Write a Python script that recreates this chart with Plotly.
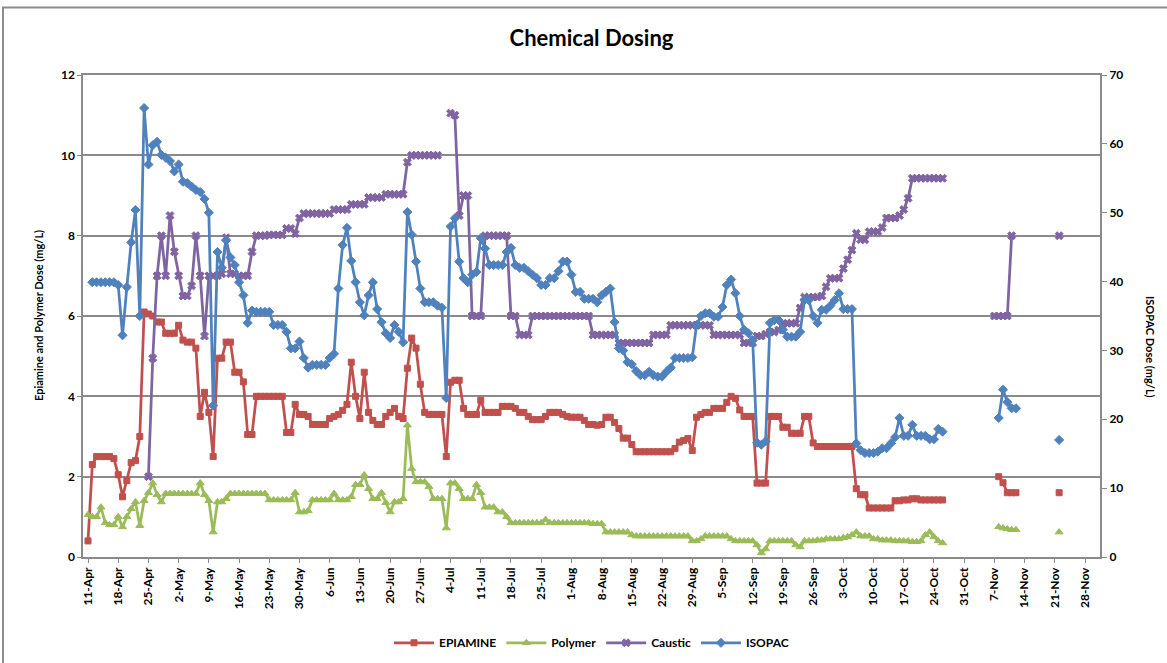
import datetime as dt
import plotly.graph_objects as go

# ---------------- data (daily, starting 11-Apr) ----------------
start = dt.date(2013, 4, 11)
N = None

# 11-Apr .. 27-Oct (199 days)
epiamine_main = [
    0.4, 2.3, 2.5, 2.5, 2.5, 2.5, 2.45,
    2.05, 1.5, 1.9, 2.35, 2.4, 3.0, 6.1,
    6.05, 6.0, 5.85, 5.85, 5.57, 5.57, 5.57,
    5.77, 5.4, 5.35, 5.35, 5.2, 3.5, 4.1,
    3.6, 2.5, 4.95, 4.95, 5.35, 5.35, 4.6,
    4.6, 4.36, 3.05, 3.05, 4.0, 4.0, 4.0,
    4.0, 4.0, 4.0, 4.0, 3.1, 3.1, 3.8,
    3.55, 3.55, 3.5, 3.3, 3.3, 3.3, 3.3,
    3.45, 3.5, 3.55, 3.65, 3.8, 4.85, 4.0,
    3.45, 4.6, 3.6, 3.4, 3.3, 3.3, 3.5,
    3.6, 3.7, 3.5, 3.45, 4.7, 5.45, 5.2,
    4.3, 3.6, 3.55, 3.55, 3.55, 3.55, 2.5,
    4.35, 4.4, 4.4, 3.7, 3.55, 3.55, 3.55,
    3.9, 3.6, 3.6, 3.6, 3.6, 3.75, 3.75,
    3.75, 3.7, 3.6, 3.6, 3.5, 3.42, 3.42,
    3.42, 3.5, 3.6, 3.6, 3.6, 3.55, 3.5,
    3.48, 3.48, 3.48, 3.4, 3.3, 3.3, 3.28,
    3.3, 3.48, 3.48, 3.35, 3.2, 2.96, 2.96,
    2.8, 2.62, 2.62, 2.62, 2.62, 2.62, 2.62,
    2.62, 2.62, 2.62, 2.7, 2.86, 2.9, 2.95,
    2.65, 3.48, 3.55, 3.6, 3.6, 3.7, 3.7,
    3.7, 3.85, 4.0, 3.95, 3.66, 3.5, 3.5,
    3.5, 1.84, 1.84, 1.84, 3.5, 3.5, 3.5,
    3.23, 3.23, 3.08, 3.08, 3.08, 3.5, 3.5,
    2.84, 2.75, 2.75, 2.75, 2.75, 2.75, 2.75,
    2.75, 2.75, 2.75, 1.7, 1.55, 1.55, 1.22,
    1.22, 1.22, 1.22, 1.22, 1.22, 1.4, 1.4,
    1.42, 1.42, 1.45, 1.45, 1.42, 1.42, 1.42,
    1.42, 1.42, 1.42,
]
polymer_main = [
    1.05, 1.0, 1.0, 1.24, 0.85, 0.8, 0.8,
    1.0, 0.75, 1.0, 1.2, 1.37, 0.78, 1.4,
    1.6, 1.84, 1.55, 1.37, 1.58, 1.58, 1.58,
    1.58, 1.58, 1.58, 1.58, 1.58, 1.84, 1.55,
    1.4, 0.62, 1.37, 1.37, 1.45, 1.58, 1.58,
    1.58, 1.58, 1.58, 1.58, 1.58, 1.58, 1.58,
    1.42, 1.42, 1.42, 1.42, 1.42, 1.42, 1.6,
    1.12, 1.12, 1.15, 1.42, 1.42, 1.42, 1.42,
    1.42, 1.58, 1.42, 1.42, 1.42, 1.5, 1.8,
    1.8, 2.04, 1.7, 1.45, 1.45, 1.6, 1.35,
    1.12, 1.37, 1.37, 1.45, 3.28, 2.2, 1.87,
    1.87, 1.87, 1.75, 1.45, 1.45, 1.45, 0.72,
    1.84, 1.84, 1.7, 1.45, 1.45, 1.45, 1.8,
    1.6, 1.24, 1.24, 1.24, 1.12, 1.12, 1.0,
    0.85, 0.85, 0.85, 0.85, 0.85, 0.85, 0.85,
    0.85, 0.93, 0.85, 0.85, 0.85, 0.85, 0.85,
    0.85, 0.85, 0.85, 0.85, 0.85, 0.83, 0.83,
    0.83, 0.62, 0.62, 0.62, 0.62, 0.62, 0.62,
    0.55, 0.52, 0.52, 0.52, 0.52, 0.52, 0.52,
    0.52, 0.52, 0.52, 0.52, 0.52, 0.52, 0.52,
    0.4, 0.4, 0.45, 0.52, 0.52, 0.52, 0.52,
    0.52, 0.52, 0.45, 0.4, 0.4, 0.4, 0.4,
    0.4, 0.3, 0.1, 0.2, 0.4, 0.4, 0.4,
    0.4, 0.4, 0.4, 0.3, 0.25, 0.4, 0.4,
    0.4, 0.42, 0.42, 0.45, 0.45, 0.45, 0.45,
    0.48, 0.5, 0.55, 0.62, 0.52, 0.52, 0.52,
    0.45, 0.45, 0.42, 0.42, 0.42, 0.4, 0.4,
    0.4, 0.4, 0.38, 0.38, 0.4, 0.55, 0.62,
    0.5, 0.4, 0.35,
]
caustic_main = [
    N, N, N, N, N, N, N,
    N, N, N, N, N, N, N,
    2.0, 4.95, 7.0, 8.0, 7.0, 8.5, 7.6,
    7.0, 6.5, 6.5, 6.75, 8.0, 7.0, 5.5,
    7.0, 7.0, 7.0, 7.05, 7.95, 7.05, 7.05,
    7.0, 7.0, 7.0, 7.6, 8.0, 8.0, 8.0,
    8.02, 8.02, 8.02, 8.02, 8.18, 8.18, 8.05,
    8.44, 8.55, 8.55, 8.55, 8.55, 8.55, 8.55,
    8.55, 8.65, 8.65, 8.65, 8.65, 8.78, 8.78,
    8.78, 8.78, 8.95, 8.95, 8.95, 8.95, 9.03,
    9.03, 9.03, 9.03, 9.03, 9.83, 10.0, 10.0,
    10.0, 10.0, 10.0, 10.0, 10.0, N, N,
    11.05, 11.0, 8.5, 9.0, 9.0, 6.0, 6.0,
    6.0, 8.0, 8.0, 8.0, 8.0, 8.0, 8.0,
    6.0, 6.0, 5.53, 5.53, 5.53, 6.0, 6.0,
    6.0, 6.0, 6.0, 6.0, 6.0, 6.0, 6.0,
    6.0, 6.0, 6.0, 6.0, 6.0, 5.53, 5.53,
    5.53, 5.53, 5.53, 5.53, 5.33, 5.33, 5.33,
    5.33, 5.33, 5.33, 5.33, 5.33, 5.53, 5.53,
    5.53, 5.53, 5.77, 5.77, 5.77, 5.77, 5.77,
    5.77, 5.77, 5.77, 5.77, 5.77, 5.53, 5.53,
    5.53, 5.53, 5.53, 5.53, 5.53, 5.33, 5.33,
    5.33, 5.5, 5.5, 5.55, 5.6, 5.6, 5.65,
    5.8, 5.82, 5.82, 5.82, 6.2, 6.47, 6.47,
    6.47, 6.47, 6.5, 6.73, 6.94, 6.94, 6.94,
    7.18, 7.4, 7.64, 8.06, 7.9, 7.9, 8.1,
    8.1, 8.1, 8.2, 8.44, 8.44, 8.44, 8.5,
    8.65, 8.93, 9.43, 9.43, 9.43, 9.43, 9.43,
    9.43, 9.43, 9.43,
]
isopac_main = [
    N, 39.9, 39.9, 39.9, 39.9, 39.9, 39.9,
    39.5, 32.2, 39.2, 45.7, 50.4, 35.0, 65.2,
    57.0, 59.8, 60.3, 58.4, 58.0, 57.5, 56.0,
    57.0, 54.5, 54.3, 53.8, 53.3, 53.0, 52.0,
    50.0, 22.0, 44.3, 42.0, 46.0, 43.5, 42.4,
    39.9, 38.0, 34.0, 35.8, 35.6, 35.6, 35.6,
    35.6, 33.7, 33.7, 33.7, 32.7, 30.3, 30.3,
    31.3, 28.9, 27.5, 27.9, 27.9, 27.9, 27.9,
    28.9, 29.5, 39.0, 45.3, 47.8, 43.0, 39.9,
    37.0, 35.1, 38.0, 39.9, 36.0, 34.1, 32.5,
    31.8, 33.7, 32.7, 31.2, 50.1, 46.8, 42.9,
    39.0, 37.0, 37.0, 37.0, 36.5, 36.2, 23.1,
    48.0, 49.2, 42.9, 40.5, 39.9, 41.0, 41.4,
    46.3, 44.8, 42.4, 42.4, 42.4, 42.4, 44.3,
    44.9, 42.4, 42.0, 42.0, 41.5, 41.0, 40.5,
    39.5, 39.5, 40.5, 40.5, 41.5, 42.9, 42.9,
    41.0, 38.5, 38.5, 37.5, 37.5, 37.5, 37.0,
    38.0, 38.5, 39.0, 34.1, 30.3, 30.0, 28.3,
    28.0, 27.0, 26.4, 26.4, 26.9, 26.4, 26.2,
    26.2, 26.9, 27.5, 28.9, 28.9, 28.9, 28.9,
    29.0, 33.7, 35.0, 35.4, 35.4, 34.9, 34.9,
    36.3, 39.5, 40.3, 38.3, 35.0, 33.0, 32.5,
    31.5, 16.6, 16.3, 16.8, 34.0, 34.4, 34.4,
    33.0, 32.0, 32.0, 32.0, 32.7, 37.3, 37.3,
    35.0, 34.0, 35.9, 35.9, 36.5, 37.3, 38.3,
    36.0, 36.0, 36.0, 16.5, 15.5, 15.1, 15.1,
    15.1, 15.3, 15.8, 15.8, 16.5, 17.4, 20.2,
    17.6, 17.6, 19.2, 17.6, 17.6, 17.6, 17.1,
    17.1, 18.6, 18.2,
]

# 7-Nov .. 12-Nov readings, and 22-Nov reading
epiamine_nov = [N, 2.0, 1.85, 1.6, 1.6, 1.6]
polymer_nov = [N, 0.75, 0.72, 0.7, 0.68, 0.68]
caustic_nov = [6.0, 6.0, 6.0, 6.0, 8.0, N]
isopac_nov = [N, 20.2, 24.3, 22.5, 21.6, 21.6]
epiamine_last = [1.6]
polymer_last = [0.62]
caustic_last = [8.0]
isopac_last = [17.0]

gap1 = [N] * 11   # 28-Oct .. 6-Nov
gap2 = [N] * 9    # 13-Nov .. 21-Nov

epiamine = epiamine_main + gap1 + epiamine_nov + gap2 + epiamine_last
polymer = polymer_main + gap1 + polymer_nov + gap2 + polymer_last
caustic = caustic_main + gap1 + caustic_nov + gap2 + caustic_last
isopac = isopac_main + gap1 + isopac_nov + gap2 + isopac_last

dates = [(start + dt.timedelta(days=i)).isoformat() for i in range(len(epiamine))]
for s in (polymer, caustic, isopac):
    assert len(s) == len(dates)

# ---------------- figure ----------------
FONT = "Lato, 'Open Sans', sans-serif"
RED, GREEN, PURPLE, BLUE = "#C0504D", "#9BBB59", "#8064A2", "#4F81BD"
GRID = "#8A8A8A"

fig = go.Figure()

def add(name, y, color, symbol, size, axis="y"):
    fig.add_trace(go.Scatter(
        x=dates, y=y, name=name, mode="lines+markers", yaxis=axis,
        line=dict(color=color, width=2.75),
        marker=dict(symbol=symbol, size=size, color=color,
                    line=dict(color=color, width=1)),
        connectgaps=False,
    ))

add("EPIAMINE", epiamine, RED, "square", 6)
add("Polymer", polymer, GREEN, "triangle-up", 7)
add("Caustic", caustic, PURPLE, "x", 7)
add("ISOPAC", isopac, BLUE, "diamond", 7, axis="y2")

fig.update_layout(
    width=1167, height=663,
    margin=dict(l=83, r=67, t=75, b=106, autoexpand=False),
    paper_bgcolor="white", plot_bgcolor="white",
    font=dict(family=FONT, color="black"),
    title=dict(text="Chemical Dosing", x=0.5, xref="paper", xanchor="center",
               y=1 - 38 / 663, yanchor="middle",
               font=dict(family=FONT, size=22, weight="bold", color="black")),
    showlegend=True,
    legend=dict(orientation="h", x=0.5, xanchor="center", y=-0.178, yanchor="middle",
                font=dict(family=FONT, size=12, weight="bold", color="black"),
                itemwidth=40, traceorder="normal", bgcolor="rgba(0,0,0,0)"),
    xaxis=dict(
        type="date", automargin=False,
        range=["2013-04-09 20:12", "2013-12-01 11:17"],
        tick0="2013-04-11", dtick=7 * 86400000, tickformat="%-d-%b",
        tickangle=-90, ticks="outside", ticklen=4, tickcolor=GRID,
        tickfont=dict(family=FONT, size=12, weight="bold", color="black"),
        showgrid=False, showline=True, linecolor=GRID, linewidth=1.5,
        mirror=True, zeroline=False,
    ),
    yaxis=dict(
        range=[0, 12], dtick=2, tick0=0, automargin=False,
        showgrid=True, gridcolor=GRID, gridwidth=1.5,
        showline=True, linecolor=GRID, linewidth=1.5,
        ticks="outside", ticklen=4, tickcolor=GRID,
        tickfont=dict(family=FONT, size=12, weight="bold", color="black"),
        zeroline=False,
    ),
    yaxis2=dict(
        range=[0, 70], dtick=10, tick0=0, overlaying="y", side="right",
        automargin=False,
        showgrid=False, showline=True, linecolor=GRID, linewidth=2,
        ticks="outside", ticklen=5, tickcolor=GRID,
        tickfont=dict(family=FONT, size=12, weight="bold", color="black"),
        zeroline=False,
    ),
    annotations=[
        dict(text="Epiamine and Polymer Dose (mg/L)", xref="paper", yref="paper",
             x=-0.0442, y=0.5, textangle=-90, showarrow=False,
             xanchor="center", yanchor="middle",
             font=dict(family=FONT, size=11, weight="bold", color="black")),
        dict(text="ISOPAC Dose (mg/L)", xref="paper", yref="paper",
             x=(1151 - 83) / 1017, y=(557 - 347) / 482, textangle=90, showarrow=False,
             xanchor="center", yanchor="middle",
             font=dict(family=FONT, size=11, weight="bold", color="black")),
    ],
    shapes=[
        dict(type="rect", xref="paper", yref="paper",
             x0=(3 - 83) / 1017, x1=(1175 - 83) / 1017,
             y0=(557 - 680) / 482, y1=(557 - 7.5) / 482,
             line=dict(color="#8C8C8C", width=2), fillcolor="rgba(0,0,0,0)",
             layer="below"),
    ],
)

fig.write_html("out.html", config={"displayModeBar": False},
               post_script="document.body.style.margin='0';")
